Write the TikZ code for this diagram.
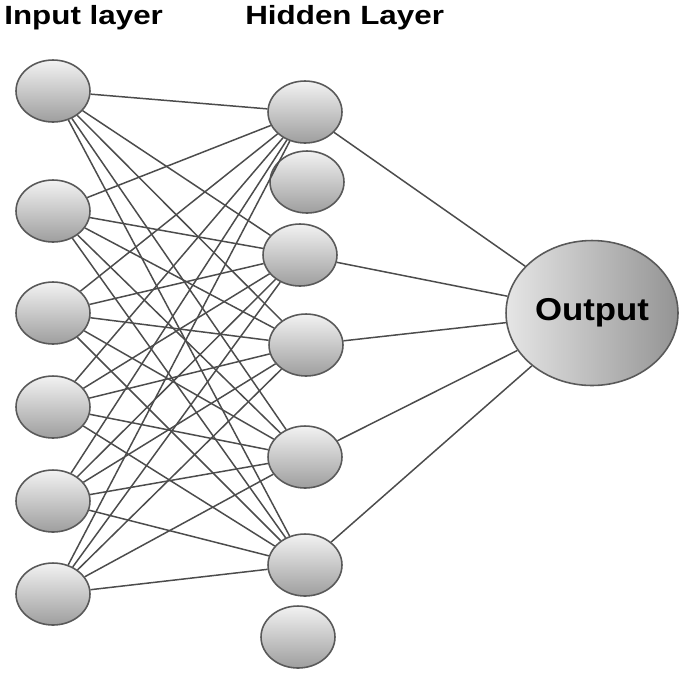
\documentclass[tikz,border=0pt]{standalone}
\usepackage{fontspec}
\setmainfont{Liberation Sans}
\usetikzlibrary{shapes.geometric}
\tikzset{
  neuron/.style={ellipse,draw=black!65,line width=0.9pt,top color=black!5,bottom color=black!38,
    minimum width=1.48cm,minimum height=1.24cm,inner sep=0pt},
  link/.style={draw=black!70,line width=0.85pt},
  layerlabel/.style={anchor=base west,inner sep=0pt,font=\bfseries\fontsize{15}{18}\selectfont},
}
\begin{document}
\begin{tikzpicture}[x=0.02cm,y=-0.02cm]
\useasboundingbox (0,0) rectangle (685,674);
\node[layerlabel] (inlabel) at (4,24) {\scalebox{1.19}[1]{Input layer}};
\node[layerlabel] (hidlabel) at (245,24) {\scalebox{1.19}[1]{Hidden Layer}};
% input and hidden layers
\foreach \n/\y in {1/91,2/211,3/313,4/407,5/501,6/594}
  \node[neuron] (i\n) at (53,\y) {};
\foreach \n/\x/\y in {1/305/112,2/307/182,3/300/255,4/306/345,5/305/457,6/305/565,7/298/637}
  \node[neuron] (h\n) at (\x,\y) {};
\node[neuron,minimum width=3.44cm,minimum height=2.9cm,left color=black!10,right color=black!42,
  font=\bfseries\fontsize{18}{20}\selectfont] (out) at (592,313) {\scalebox{1.1}[1]{Output}};
% connections
\foreach \i in {1,...,6}
  \foreach \h in {1,3,4,5,6}
    \draw[link] (i\i) -- (h\h);
\foreach \h in {1,3,4,5,6}
  \draw[link] (h\h) -- (out);
\end{tikzpicture}
\end{document}
